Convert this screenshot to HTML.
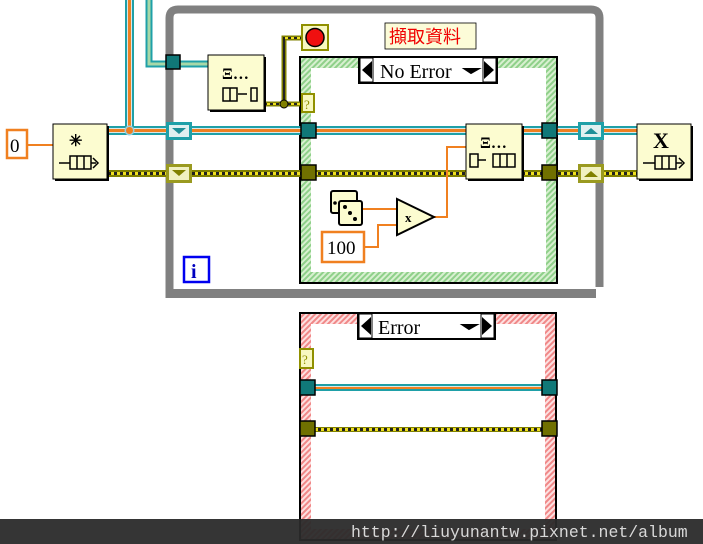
<!DOCTYPE html>
<html><head><meta charset="utf-8"><style>
html,body{margin:0;padding:0;background:#fff;width:703px;height:544px;overflow:hidden}
svg{display:block}
text{font-family:"Liberation Serif",serif}
</style></head><body>
<svg width="703" height="544" viewBox="0 0 703 544" xmlns="http://www.w3.org/2000/svg">
<defs>
<pattern id="gh" width="4" height="4" patternUnits="userSpaceOnUse" patternTransform="rotate(45)"><rect width="4" height="4" fill="#d8f0d0"/><rect width="2" height="4" fill="#8fd08a"/></pattern>
<pattern id="rh" width="4" height="4" patternUnits="userSpaceOnUse" patternTransform="rotate(45)"><rect width="4" height="4" fill="#fde0e0"/><rect width="2" height="4" fill="#f08888"/></pattern>
<pattern id="yd" width="6" height="4" patternUnits="userSpaceOnUse"><rect width="6" height="4" fill="#f0e020"/><rect width="3" height="4" fill="#222"/></pattern>
</defs>

<path d="M169.5,298 V18 Q169.5,9.5 178,9.5 H591 Q599.5,9.5 599.5,18 V287" fill="none" stroke="#808080" stroke-width="8"/>
<rect x="166" y="289" width="430" height="9" fill="#808080"/>

<rect x="300" y="57" width="257" height="226" fill="url(#gh)" stroke="#000" stroke-width="2"/>
<rect x="311" y="68" width="235" height="204" fill="#fff"/>
<rect x="300" y="313" width="256" height="227" fill="url(#rh)" stroke="#000" stroke-width="2"/>
<rect x="311" y="324" width="234" height="205" fill="#fff"/>

<rect x="125" y="0" width="9" height="132" fill="#1fa0a8"/>
<rect x="127" y="0" width="5" height="132" fill="#d8e8e8"/>
<rect x="128" y="0" width="3" height="132" fill="#f08020"/>
<path d="M149,0 V64 H208" fill="none" stroke="#1fa0a8" stroke-width="7"/>
<path d="M149,0 V64 H208" fill="none" stroke="#a8d8a8" stroke-width="3"/>

<rect x="108" y="126" width="529" height="9" fill="#1fa0a8"/>
<rect x="108" y="128" width="529" height="5" fill="#d8e8e8"/>
<rect x="108" y="129" width="529" height="3" fill="#f08020"/>
<circle cx="129.5" cy="130.5" r="5" fill="#9ad0e0"/><circle cx="129.5" cy="130.5" r="3.5" fill="#f08020"/>
<rect x="108" y="170" width="529" height="7" fill="#808000"/>
<rect x="108" y="172" width="529" height="3" fill="url(#yd)"/>
<rect x="315" y="384" width="228" height="7" fill="#1fa0a8"/>
<rect x="315" y="386" width="228" height="3" fill="#d8e8e8"/>
<rect x="315" y="387" width="228" height="2" fill="#f08020"/>
<rect x="315" y="427" width="228" height="5" fill="#808000"/>
<rect x="315" y="428" width="228" height="3" fill="url(#yd)"/>

<path d="M265,104 H300 M284,104 V38 H302" fill="none" stroke="#808000" stroke-width="5"/>
<path d="M265,104 H300 M284,104 V38 H302" fill="none" stroke="url(#yd)" stroke-width="2"/>
<circle cx="284" cy="104" r="4" fill="#808000" stroke="#000"/>

<path d="M27,145 H53 M362,209 H396 M364,247 H378 V225 H396 M434,217 H447 V147 H466" fill="none" stroke="#f08020" stroke-width="2"/>

<rect x="166" y="55" width="14" height="14" fill="#107878" stroke="#000" stroke-width="1.5"/>
<rect x="166" y="122" width="26" height="18" fill="#1fa0a8"/><rect x="169" y="125" width="20" height="12" fill="#e0f0f0"/><path d="M172,128 H186 L179,134Z" fill="#1f8f98"/>
<rect x="166" y="164" width="26" height="19" fill="#9a9a20"/><rect x="169" y="167" width="20" height="13" fill="#f0f0c0"/><path d="M172,170 H186 L179,176Z" fill="#808000"/>
<rect x="578" y="122" width="26" height="18" fill="#1fa0a8"/><rect x="581" y="125" width="20" height="12" fill="#e0f0f0"/><path d="M584,134 H598 L591,128Z" fill="#1f8f98"/>
<rect x="578" y="164" width="26" height="19" fill="#9a9a20"/><rect x="581" y="167" width="20" height="13" fill="#f0f0c0"/><path d="M584,177 H598 L591,171Z" fill="#808000"/>

<g stroke="#000" stroke-width="1.5">
<rect x="301" y="123" width="15" height="15" fill="#107878"/>
<rect x="301" y="165" width="15" height="15" fill="#707000"/>
<rect x="542" y="123" width="15" height="15" fill="#107878"/>
<rect x="542" y="165" width="15" height="15" fill="#707000"/>
<rect x="300" y="380" width="15" height="15" fill="#107878"/>
<rect x="300" y="421" width="15" height="15" fill="#707000"/>
<rect x="542" y="380" width="15" height="15" fill="#107878"/>
<rect x="542" y="421" width="15" height="15" fill="#707000"/>
</g>

<g>
<rect x="359" y="57" width="138" height="26" fill="#fff" stroke="#000" stroke-width="2"/>
<rect x="360" y="58" width="13" height="24" fill="#fff" stroke="#000"/><path d="M362,70 L372,61 V79Z"/>
<rect x="483" y="58" width="13" height="24" fill="#fff" stroke="#000"/><path d="M494,70 L484,61 V79Z"/>
<path d="M465,69 H478 L471,73Z" stroke="#000" stroke-width="2"/>
<text x="380" y="78" font-size="20">No Error</text>
</g>
<g>
<rect x="358" y="313" width="137" height="26" fill="#fff" stroke="#000" stroke-width="2"/>
<rect x="359" y="314" width="13" height="24" fill="#fff" stroke="#000"/><path d="M361,326 L371,317 V335Z"/>
<rect x="481" y="314" width="13" height="24" fill="#fff" stroke="#000"/><path d="M492,326 L482,317 V335Z"/>
<path d="M463,325 H476 L469,329Z" stroke="#000" stroke-width="2"/>
<text x="378" y="334" font-size="20">Error</text>
</g>

<rect x="302" y="94" width="12" height="18" fill="#f8f8c0" stroke="#909000" stroke-width="2"/><text x="304" y="109" font-size="13" fill="#909000">?</text>
<rect x="300" y="349" width="13" height="19" fill="#f8f8c0" stroke="#909000" stroke-width="2"/><text x="302" y="364" font-size="13" fill="#909000">?</text>

<rect x="302" y="25" width="26" height="25" fill="#f8f8c0" stroke="#909000" stroke-width="2"/>
<circle cx="315" cy="37.5" r="9" fill="#f01010" stroke="#000" stroke-width="1.5"/>

<rect x="385" y="23" width="91" height="26" fill="#fcfcd8" stroke="#000" stroke-width="0.8"/>
<text x="389" y="43" font-size="18" fill="#f00000" style='font-family:"Liberation Sans","Noto Sans CJK TC",sans-serif'>擷取資料</text>

<rect x="7" y="130" width="20" height="28" fill="#fff" stroke="#f08020" stroke-width="2.5"/>
<text x="10" y="152" font-size="19">0</text>
<rect x="322" y="232" width="42" height="30" fill="#fff" stroke="#f08020" stroke-width="2.5"/>
<text x="327" y="254" font-size="19">100</text>

<g font-family="Liberation Sans" >
<rect x="55" y="126" width="54" height="55" fill="#000"/>
<rect x="53" y="124" width="54" height="55" fill="#fcfcd0" stroke="#000"/>
<text x="69" y="146" font-size="16" font-weight="bold">✳</text>
<path d="M59,163 H96 M93,158 L98,163 L93,168" fill="none" stroke="#000" stroke-width="1.5"/>
<rect x="70" y="156" width="21" height="13" fill="#fcfcd0" stroke="#000" stroke-width="1.5"/><path d="M77,156 V169 M84,156 V169" stroke="#000" stroke-width="1.5"/>

<rect x="210" y="57" width="56" height="55" fill="#000"/>
<rect x="208" y="55" width="56" height="55" fill="#fcfcd0" stroke="#000"/>
<text x="222" y="79" font-size="16" font-weight="bold">Ξ…</text>
<rect x="223" y="88" width="14" height="13" fill="none" stroke="#000" stroke-width="1.5"/><path d="M230,88 V101 M238,94 H247" stroke="#000" stroke-width="1.5"/>
<rect x="251" y="88" width="6" height="13" fill="none" stroke="#000" stroke-width="1.5"/>

<rect x="468" y="126" width="56" height="55" fill="#000"/>
<rect x="466" y="124" width="56" height="55" fill="#fcfcd0" stroke="#000"/>
<text x="480" y="148" font-size="16" font-weight="bold">Ξ…</text>
<rect x="470" y="154" width="8" height="13" fill="none" stroke="#000" stroke-width="1.5"/><path d="M478,160 H486" stroke="#000" stroke-width="1.5"/>
<rect x="493" y="154" width="22" height="13" fill="none" stroke="#000" stroke-width="1.5"/><path d="M500,154 V167 M507,154 V167" stroke="#000" stroke-width="1.5"/>

<rect x="639" y="126" width="54" height="55" fill="#000"/>
<rect x="637" y="124" width="54" height="55" fill="#fcfcd0" stroke="#000"/>
<text x="653" y="148" font-size="22" font-weight="bold">X</text>
<path d="M643,163 H682 M679,158 L684,163 L679,168" fill="none" stroke="#000" stroke-width="1.5"/>
<rect x="655" y="156" width="21" height="13" fill="#fcfcd0" stroke="#000" stroke-width="1.5"/><path d="M662,156 V169 M669,156 V169" stroke="#000" stroke-width="1.5"/>
</g>

<rect x="331" y="191" width="26" height="22" fill="#fcfcd0" stroke="#000" stroke-width="2" rx="2"/>
<rect x="339" y="201" width="23" height="24" fill="#fcfcd0" stroke="#000" stroke-width="2" rx="2"/>
<circle cx="345" cy="207" r="2"/><circle cx="350" cy="213" r="2"/><circle cx="355" cy="219" r="2"/><circle cx="335" cy="203" r="1.8"/>
<path d="M397,199 L434,217 L397,235Z" fill="#fcfcd0" stroke="#000" stroke-width="2"/>
<text x="405" y="222" font-size="13" font-weight="bold" font-family="Liberation Sans">x</text>

<rect x="184" y="257" width="25" height="25" fill="#fff" stroke="#0000f0" stroke-width="2.5"/>
<text x="191" y="278" font-size="20" font-weight="bold" fill="#0000c0" font-family="Liberation Sans">i</text>

<rect x="0" y="519" width="703" height="25" fill="#2a2a2a" opacity="0.95"/>
<text x="351" y="537" font-size="16.5" fill="#d8d8d8" style='font-family:"Liberation Mono",monospace'>http://liuyunantw.pixnet.net/album</text>
</svg>
</body></html>
